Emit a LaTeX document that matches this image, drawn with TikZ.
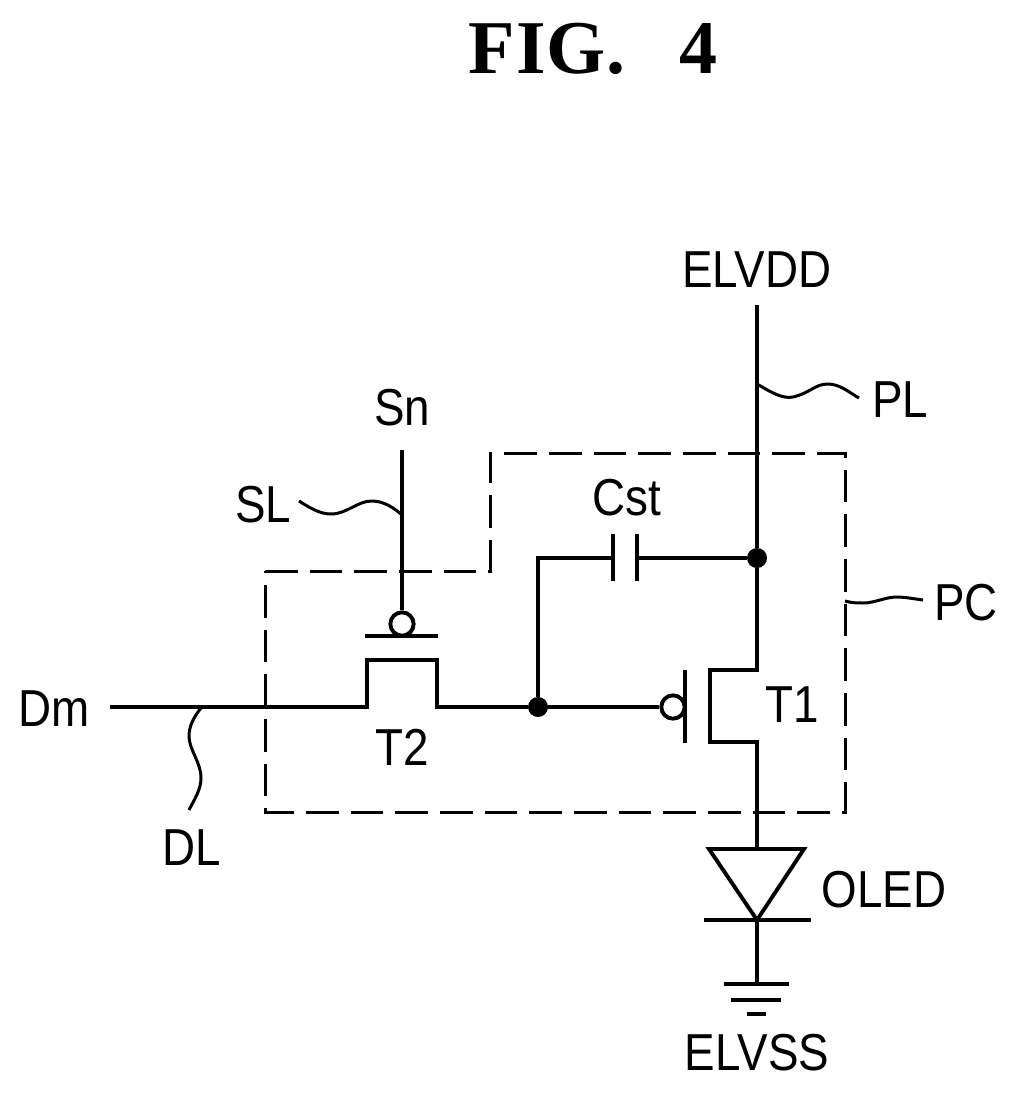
\documentclass[tikz,border=0pt]{standalone}
\usepackage{fontspec}
\setmainfont[FakeStretch=0.88]{Liberation Sans}
\newfontfamily\titlefont{Liberation Serif}
\usetikzlibrary{positioning}
\begin{document}
\begin{tikzpicture} [x=0.75pt,y=-0.75pt,
       wire/.style = {line width=2.9pt},
       lead/.style = {line width=2.25pt},
	   every node/.style={font=\fontsize{39}{39}\selectfont,inner sep=0pt},
	   bubble/.style = {circle,draw,line width=2.9pt,fill=white,minimum size=17.5pt},
	   dotnode/.style = {circle,fill=black,minimum size=15pt}]
	\useasboundingbox (0,0) rectangle (1016,1093);
	%% Title
	\node [anchor=base,font=\titlefont\bfseries\fontsize{57}{57}\selectfont] (title) at (593,73) {F\hspace{1pt}I\hspace{1pt}G.\hspace{41pt}4};

	%% Supply line and labels
	\node (elvdd) at (757,270) {ELVDD};
	\coordinate (top) at (757,305);
	\node [dotnode] (jcap) at (757,558) {};
	\coordinate (t1d) at (757,670);
	\coordinate (t1s) at (757,742);
	\coordinate (anode) at (757,849);
	\coordinate (cathode) at (757,920);
	\coordinate (gnd) at (757,984);
	\node (elvss) at (757,1053) {ELVSS};
	\node (pl) at (900,400) {PL};
	\coordinate (pltap) at (757,384);
	\coordinate (plend) at (859,398);
	\node (oled) at (884,890) {OLED};

	%% Data line
	\node (dm) at (54,709) {Dm};
	\node (dl) at (192,848) {DL};
	\coordinate (dstart) at (110,707);
	\coordinate (dtap) at (201,708);
	\coordinate (dlend) at (189,810);
	\coordinate (t2l) at (367,707);
	\coordinate (t2r) at (437,707);
	\node [dotnode] (jgate) at (538,707) {};
	\node (t2) at (402,747) {T2};

	%% Scan line
	\node (sn) at (402,408) {Sn};
	\node (sl) at (263,505) {SL};
	\coordinate (stop) at (402,450);
	\coordinate (stap) at (402,515);
	\coordinate (slend) at (299,501);
	\node [bubble] (t2g) at (402,624) {};

	%% T1
	\node [bubble] (t1g) at (673,707) {};
	\node (t1) at (792,705) {T1};

	%% Capacitor
	\node (cst) at (627,498) {Cst};
	\coordinate (capl) at (613,558);
	\coordinate (capr) at (637,558);
	\coordinate (capc) at (538,558);

	%% Pixel circuit box
	\node (pc) at (966,603) {PC};
	\coordinate (pctap) at (845,601);
	\coordinate (pcend) at (923,600);

	%% Simple paths
	\draw[wire] (top) -- (jcap) -- (t1d) -- ++(-47,0) -- ++(0,72) -- (t1s) -- (anode);
	\draw[wire] (dstart) -- (t2l) -- ++(0,-47) -- ++(70,0) -- (t2r) -- (jgate) -- (t1g);
	\draw[wire] (stop) -- (t2g);
	\draw[wire] (jgate) -- (capc) -- (capl);
	\draw[wire] (capr) -- (jcap);
	\draw[wire] (capl) ++(0,-24) -- ++(0,47);
	\draw[wire] (capr) ++(0,-24) -- ++(0,47);
	\draw[wire] (365,636) -- (438,636);
	\draw[wire] (685,670) -- (685,743);

	%% OLED and ground
	\draw[wire,line join=miter] (anode) -- (709,849) -- (cathode) -- (804,849) -- cycle;
	\draw[wire] (704,920) -- (811,920);
	\draw[wire] (cathode) -- (gnd);
	\draw[wire] (724,984) -- (789,984);
	\draw[wire] (731,1000) -- (781,1000);
	\draw[wire] (747,1014) -- (766,1014);

	%% Dashed box
	\draw[lead,dash pattern=on 24.5pt off 9pt] (265,571) -- (490,571) -- (490,453) -- (845,453) -- (845,812) -- (265,812) -- cycle;

	%% Leaders
	\draw[lead] (slend) .. controls (310,508) and (320,514) .. (331,514) .. controls (347,514) and (357,501) .. (372,501) .. controls (384,501) and (394,508) .. (stap);
	\draw[lead] (pltap) .. controls (772,393) and (783,399) .. (793,397) .. controls (810,393) and (815,384) .. (828,384) .. controls (840,384) and (850,393) .. (plend);
	\draw[lead] (pctap) .. controls (852,603) and (858,603) .. (863,603) .. controls (875,603) and (885,597) .. (897,597) .. controls (905,597) and (915,599) .. (pcend);
	\draw[lead] (dtap) .. controls (193,718) and (189,727) .. (189,736) .. controls (189,750) and (201,762) .. (201,778) .. controls (201,790) and (194,800) .. (dlend);
\end{tikzpicture}
\end{document}
